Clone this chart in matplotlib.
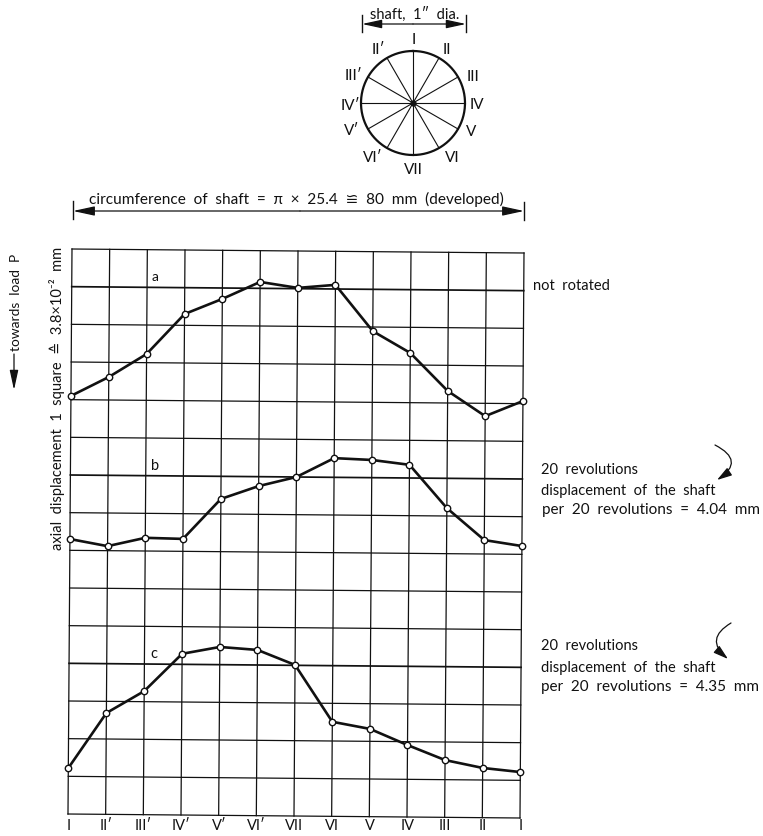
import numpy as np
import matplotlib
matplotlib.use('Agg')
import matplotlib.pyplot as plt
from matplotlib.transforms import Affine2D

plt.rcParams['font.family'] = ['Lato', 'DejaVu Sans']

#Valores (em quadrados a partir do topo da grade)
posicoes = ['I', 'II′', 'III′', 'IV′', 'V′', 'VI′', 'VII', 'VI', 'V', 'IV', 'III', 'II', 'I']
curva_a = [3.90, 3.39, 2.77, 1.70, 1.29, 0.83, 0.98, 0.89, 2.11, 2.68, 3.68, 4.34, 3.93]
curva_b = [7.70, 7.88, 7.65, 7.67, 6.60, 6.25, 6.00, 5.49, 5.53, 5.65, 6.79, 7.63, 7.78]
curva_c = [13.78, 12.31, 11.72, 10.72, 10.53, 10.60, 10.99, 12.49, 12.67, 13.09, 13.48, 13.68, 13.78]
linhas_fortes = [1, 6, 11]

raios = ['I', 'II', 'III', 'IV', 'V', 'VI', 'VII', 'VI′', 'V′', 'IV′', 'III′', 'II′']
angulos = np.arange(0, 360, 30)

W, H = 763, 837
PRETO = '#111111'
fig = plt.figure(figsize=(W / 100, H / 100), dpi=100)

def caixa(x0, y0, x1, y1):
    return [x0 / W, 1 - y1 / H, (x1 - x0) / W, (y1 - y0) / H]

def texto(x, y, s, size=10.5, **kw):
    kw.setdefault('va', 'center')
    fig.text(x / W, 1 - y / H, s, fontsize=size, color=PRETO, **kw)

def seta(x0, y0, x1, y1, rad=0.0, ms=11, hl=1.2, hw=0.26):
    estilo = '-|>,head_length=%.2f,head_width=%.2f' % (hl, hw)
    fig.add_artist(matplotlib.patches.FancyArrowPatch(
        (x0 / W, 1 - y0 / H), (x1 / W, 1 - y1 / H), transform=fig.transFigure,
        arrowstyle=estilo, mutation_scale=ms,
        connectionstyle='arc3,rad=%.2f' % rad, color=PRETO, lw=0.9, shrinkA=0, shrinkB=0))

def traco(x0, y0, x1, y1, lw=1.0):
    fig.add_artist(plt.Line2D([x0 / W, x1 / W], [1 - y0 / H, 1 - y1 / H],
                              transform=fig.transFigure, color=PRETO, lw=lw))

### G R A D E   E   C U R V A S ###
ax = fig.add_axes(caixa(72, 250, 524, 815))
ax.set_xlim(0, 12)
ax.set_ylim(15, 0)
ax.axis('off')
#A pagina escaneada esta levemente torta
torto = Affine2D.from_values(1, 0.00885, -0.0071, 1, 0, 0) + ax.transData

for i in range(13):
    ax.plot([i, i], [0, 15], color=PRETO, lw=0.9, transform=torto, clip_on=False)
for j in range(16):
    lw = 1.25 if j in linhas_fortes else 0.9
    ax.plot([0, 12], [j, j], color=PRETO, lw=lw, transform=torto, clip_on=False)

for curva in (curva_a, curva_b, curva_c):
    ax.plot(range(13), curva, color=PRETO, lw=1.9, marker='o', ms=4.6, mfc='white',
            mec=PRETO, mew=1.0, transform=torto, clip_on=False, zorder=5)

#Rotulos de baixo ficam numa linha so, senao os da direita saem da pagina
for i, nome in enumerate(posicoes):
    ax.text(i - 0.1, 15.3, nome, ha='center', va='center', fontsize=10.5, color=PRETO,
            clip_on=False)

### C I R C U L O ###
axc = fig.add_axes(caixa(361, 52, 465, 156))
axc.set_xlim(-1, 1)
axc.set_ylim(-1, 1)
axc.axis('off')
t = np.radians(np.arange(0, 361, 2))
axc.plot(np.sin(t), np.cos(t), color=PRETO, lw=1.6, clip_on=False)
for ang in angulos:
    a = np.radians(ang)
    axc.plot([0, np.sin(a)], [0, np.cos(a)], color=PRETO, lw=0.8, clip_on=False)
axc.plot([0], [0], 'o', color=PRETO, ms=3.5)

#Rotulos do circulo foram colocados a mao no original
lugares = [(414, 40), (447, 50), (473, 77), (477, 105), (471, 132), (452, 158), (413, 170),
           (373, 158), (352, 131), (350, 106), (353, 76), (378, 50)]
for nome, (px, py) in zip(raios, lugares):
    texto(px, py, nome, ha='center', size=11)

### T E X T O S ###
texto(415, 14, 'shaft,  1″  dia.', ha='center', size=10.5)
traco(362, 16, 362, 33)
traco(466, 16, 466, 33)
seta(413, 25, 362, 25, ms=10)
seta(413, 25, 466, 25, ms=10)

texto(296, 199, 'circumference  of  shaft  =  π  ×  25.4  ≌  80  mm  (developed)', ha='center', size=11.1)
traco(73, 202, 73, 220)
traco(524, 203, 524, 221)
seta(300, 212, 73, 212)
seta(300, 212, 524, 212)

texto(16, 302, 'towards  load  P', rotation=90, ha='center', size=9.9)
seta(14, 355, 14, 391, ms=10)
texto(57, 398, 'axial  displacement  1  square  ≙  3.8×10⁻²  mm', rotation=90, ha='center', size=10.5)

texto(155, 277, 'a', ha='center', size=10)
texto(155, 466, 'b', ha='center', size=10.5)
texto(154, 654, 'c', ha='center', size=10.5)

texto(533, 286, 'not  rotated', size=10.5)
texto(541, 470, '20  revolutions', size=10.5)
texto(541, 491, 'displacement  of  the  shaft', size=10.5)
texto(542, 510, 'per  20  revolutions  =  4.04  mm', size=11)
seta(715, 446, 717, 481, rad=-0.85, ms=9, hl=1.0, hw=0.3)

texto(541, 646, '20  revolutions', size=10.5)
texto(541, 668, 'displacement  of  the  shaft', size=10.5)
texto(541, 687, 'per  20  revolutions  =  4.35  mm', size=11)
seta(731, 624, 728, 660, rad=0.7, ms=9, hl=1.0, hw=0.3)

fig.savefig('out.png', dpi=100, facecolor='white')
